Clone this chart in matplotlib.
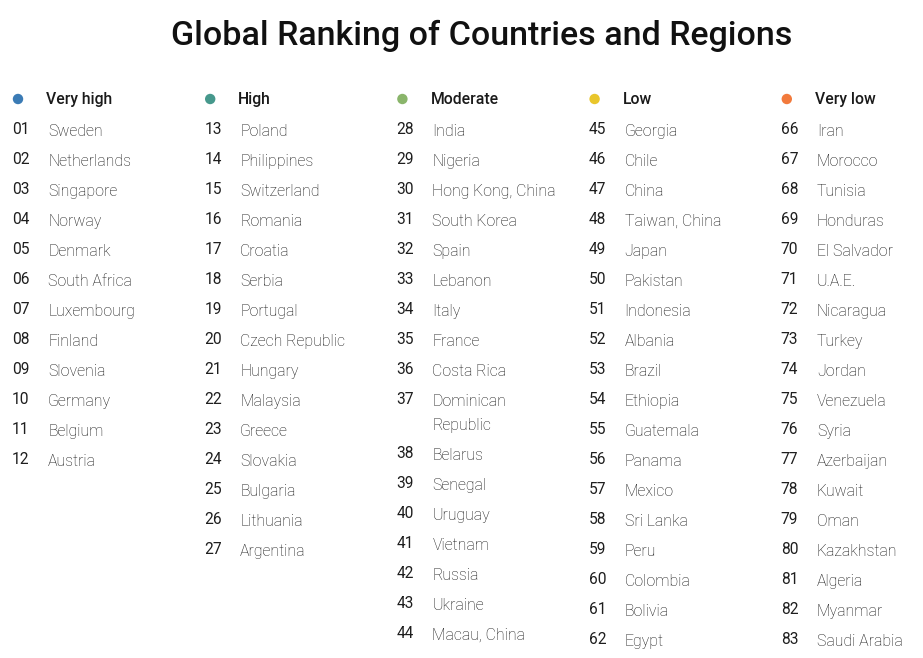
import matplotlib
matplotlib.use("Agg")
import matplotlib.pyplot as plt
from matplotlib.patches import Circle

title = "Global Ranking of Countries and Regions"
categories = ["Very high", "High", "Moderate", "Low", "Very low"]
cat_colors = ["#3b7bb5", "#46988c", "#8ab56b", "#e9c62b", "#f27a3c"]

very_high = ["Sweden", "Netherlands", "Singapore", "Norway", "Denmark", "South Africa",
             "Luxembourg", "Finland", "Slovenia", "Germany", "Belgium", "Austria"]
high = ["Poland", "Philippines", "Switzerland", "Romania", "Croatia", "Serbia", "Portugal",
        "Czech Republic", "Hungary", "Malaysia", "Greece", "Slovakia", "Bulgaria",
        "Lithuania", "Argentina"]
moderate = ["India", "Nigeria", "Hong Kong, China", "South Korea", "Spain", "Lebanon",
            "Italy", "France", "Costa Rica", "Dominican\nRepublic", "Belarus", "Senegal",
            "Uruguay", "Vietnam", "Russia", "Ukraine", "Macau, China"]
low = ["Georgia", "Chile", "China", "Taiwan, China", "Japan", "Pakistan", "Indonesia",
       "Albania", "Brazil", "Ethiopia", "Guatemala", "Panama", "Mexico", "Sri Lanka",
       "Peru", "Colombia", "Bolivia", "Egypt"]
very_low = ["Iran", "Morocco", "Tunisia", "Honduras", "El Salvador", "U.A.E.", "Nicaragua",
            "Turkey", "Jordan", "Venezuela", "Syria", "Azerbaijan", "Kuwait", "Oman",
            "Kazakhstan", "Algeria", "Myanmar", "Saudi Arabia"]
rank_starts = [1, 13, 28, 45, 66]
groups = [very_high, high, moderate, low, very_low]

W, H = 923, 658
fig = plt.figure(figsize=(W / 100, H / 100), dpi=100)
ax = fig.add_axes([0, 0, 1, 1])
ax.set_xlim(0, W)
ax.set_ylim(H, 0)
ax.axis("off")

FONT = "Roboto"
ax.text(482, 45, title, ha="center", va="baseline", fontsize=24.5, family=FONT,
        fontweight="medium", color="#111111")

col_x0 = 12
col_step = 192.2
row_step = 30
wrap_step = 24
for ci, (cat, color, names, r0) in enumerate(zip(categories, cat_colors, groups, rank_starts)):
    x = col_x0 + ci * col_step
    ax.add_patch(Circle((x + 6, 99), 5.2, color=color, lw=0))
    ax.text(x + 34, 104, cat, ha="left", va="baseline", fontsize=11.3, family=FONT,
            fontweight="medium", color="#1a1a1a")
    y = 136
    for k, name in enumerate(names):
        ax.text(x, y - 1.5, f"{r0 + k:02d}", ha="left", va="baseline", fontsize=11.2,
                family=FONT, color="#1e1e1e")
        lines = name.split("\n")
        for li, line in enumerate(lines):
            ax.text(x + 36, y + li * wrap_step, line, ha="left", va="baseline",
                    fontsize=11.4, family=FONT, fontweight="light", color="#141414")
        y += row_step + (len(lines) - 1) * wrap_step

fig.savefig("out.png", dpi=100, facecolor="white")
